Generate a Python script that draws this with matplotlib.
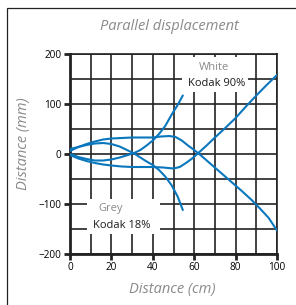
import matplotlib.pyplot as plt
from matplotlib.patches import Rectangle

# curves (x in cm, y in mm)
c1_x = [0, 4, 8, 12, 16, 20, 25, 30, 35, 40, 44, 48, 51, 54, 57, 60, 63, 68, 73, 78, 83, 88, 92, 96, 100]
c1_y = [6, 14, 20, 25, 29, 31, 32, 33, 33, 33, 35, 36, 34, 27, 17, 8, -2, -20, -38, -56, -74, -93, -110, -128, -153]

c2_x = [0, 4, 8, 12, 16, 20, 25, 30, 35, 40, 45, 50, 53, 56, 59, 62, 66, 70, 75, 80, 85, 90, 95, 100]
c2_y = [-2, -9, -14, -18, -21, -23, -25, -26, -26, -26, -27, -29, -26, -18, -9, 2, 17, 33, 52, 72, 95, 117, 138, 158]

c3_x = [0, 4, 8, 12, 16, 20, 24, 28, 31, 34, 37, 40, 43, 46, 49, 52, 54.5]
c3_y = [0, -6, -10, -13, -13, -11, -7, -2, 2, 8, 17, 27, 40, 56, 78, 98, 117]

c4_x = [0, 4, 8, 12, 16, 20, 24, 28, 31, 34, 37, 40, 43, 46, 49, 52, 54.5]
c4_y = [10, 14, 18, 21, 22, 20, 15, 7, 1, -7, -15, -22, -32, -45, -62, -85, -112]

x_ticks = [0, 20, 40, 60, 80, 100]
y_ticks = [-200, -100, 0, 100, 200]

blue = '#0a77bd'
grey = '#8a8a8a'
font = 'Open Sans'

fig = plt.figure(figsize=(2.96, 3.05), dpi=100)
fig.patches.append(Rectangle((7/296, -0.1), 2, 1 - 8/305 + 0.1, transform=fig.transFigure,
                             fill=False, lw=0.9, ec='#222222'))

ax = fig.add_axes([70/296, 51/305, 207/296, 200/305])
ax.set_xlim(0, 100)
ax.set_ylim(-200, 200)

ax.set_xticks(x_ticks)
ax.set_yticks(y_ticks)
ax.set_xticks(range(0, 101, 10), minor=True)
ax.set_yticks(range(-200, 201, 50), minor=True)
ax.grid(which='both', color='#222222', lw=1.2)
ax.tick_params(which='minor', length=0)
ax.tick_params(which='major', length=4, width=2, color='#222222', labelsize=7.2, pad=2)
for lab in ax.get_xticklabels() + ax.get_yticklabels():
    lab.set_fontfamily(font)
for s in ['top', 'right']:
    ax.spines[s].set_linewidth(1.2)
    ax.spines[s].set_color('#222222')
for s in ['left', 'bottom']:
    ax.spines[s].set_linewidth(2)
    ax.spines[s].set_color('#222222')
ax.set_axisbelow(True)

# white label boxes over the grid
ax.add_patch(Rectangle((54, 124), 32, 70, fc='white', ec='none', zorder=1.5))
ax.add_patch(Rectangle((8, -160), 35.5, 70, fc='white', ec='none', zorder=1.5))

for xs, ys in [(c1_x, c1_y), (c2_x, c2_y), (c3_x, c3_y), (c4_x, c4_y)]:
    ax.plot(xs, ys, color=blue, lw=1.5, solid_capstyle='round', zorder=3)

ax.text(69.5, 173, 'White', color=grey, fontsize=8, family=font, ha='center', va='center', zorder=4)
ax.text(71, 141, 'Kodak 90%', color='#1a1a1a', fontsize=8, family=font, ha='center', va='center', zorder=4)
ax.text(19.8, -110, 'Grey', color=grey, fontsize=8, family=font, ha='center', va='center', zorder=4)
ax.text(25, -142, 'Kodak 18%', color='#1a1a1a', fontsize=8, family=font, ha='center', va='center', zorder=4)

fig.text(169/296, 1 - 26/305, 'Parallel displacement', color=grey, fontsize=10.5,
         style='italic', family=font, ha='center', va='center')
fig.text(172/296, 1 - 289/305, 'Distance (cm)', color=grey, fontsize=10.5,
         style='italic', family=font, ha='center', va='center')
fig.text(24/296, 1 - 144/305, 'Distance (mm)', color=grey, fontsize=10.5, rotation=90,
         style='italic', family=font, ha='center', va='center')

fig.savefig('out.png', dpi=100)
